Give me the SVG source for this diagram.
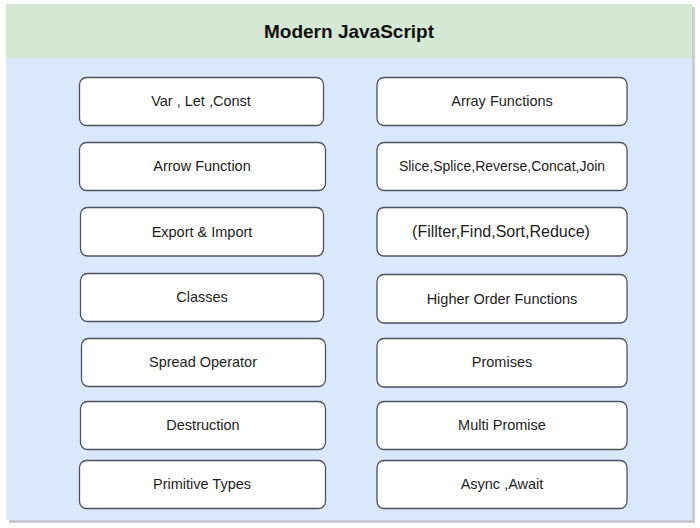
<svg xmlns="http://www.w3.org/2000/svg" width="700" height="528" viewBox="0 0 700 528">
<style>
.node rect{fill:#ffffff;stroke:#4d525c;stroke-width:1.3}
.node text{font-family:"Liberation Sans",Arial,sans-serif;font-size:14.5px;fill:#1e1e1e;text-anchor:middle;dominant-baseline:central}
.title{font-family:"Liberation Sans",Arial,sans-serif;font-size:19px;font-weight:bold;fill:#111;text-anchor:middle;dominant-baseline:central}
</style>
<rect width="700" height="528" fill="#ffffff"/>
<g id="frame">
<rect x="9" y="7" width="686" height="516" fill="#c9ccd2"/>
<rect x="6" y="4" width="686" height="516" fill="#dae8fc"/>
<rect x="6" y="4" width="686" height="54" fill="#d5e8d4"/>
<text class="title" x="349" y="31">Modern JavaScript</text>
</g>
<g id="connectors"></g>
<g id="n1" class="node"><rect x="79.5" y="77.5" width="244" height="48" rx="7"/><text x="201" y="101">Var , Let ,Const</text></g>
<g id="n2" class="node"><rect x="79.5" y="142.5" width="246" height="48" rx="7"/><text x="202" y="166">Arrow Function</text></g>
<g id="n3" class="node"><rect x="80.5" y="207.5" width="243" height="48.5" rx="7"/><text x="202" y="232">Export &amp; Import</text></g>
<g id="n4" class="node"><rect x="80.5" y="273.5" width="243" height="48" rx="7"/><text x="202" y="297">Classes</text></g>
<g id="n5" class="node"><rect x="81.5" y="338.5" width="244" height="48" rx="7"/><text x="203" y="362">Spread Operator</text></g>
<g id="n6" class="node"><rect x="80.5" y="401.5" width="245" height="48" rx="7"/><text x="203" y="425">Destruction</text></g>
<g id="n7" class="node"><rect x="79.5" y="460.5" width="246" height="48" rx="7"/><text x="202" y="484">Primitive Types</text></g>
<g id="n8" class="node"><rect x="377" y="77.5" width="250" height="48" rx="7"/><text x="502" y="101">Array Functions</text></g>
<g id="n9" class="node"><rect x="377" y="142.5" width="250" height="48" rx="7"/><text x="502" y="166" style="font-size:14px">Slice,Splice,Reverse,Concat,Join</text></g>
<g id="n10" class="node"><rect x="377" y="207.5" width="250" height="48.5" rx="7"/><text x="501" y="231.5" style="font-size:16px">(Fillter,Find,Sort,Reduce)</text></g>
<g id="n11" class="node"><rect x="377" y="274.5" width="250" height="48.5" rx="7"/><text x="502" y="299">Higher Order Functions</text></g>
<g id="n12" class="node"><rect x="377" y="338.5" width="250" height="48.5" rx="7"/><text x="502" y="362">Promises</text></g>
<g id="n13" class="node"><rect x="377" y="401.5" width="250" height="48" rx="7"/><text x="502" y="425">Multi Promise</text></g>
<g id="n14" class="node"><rect x="377" y="460.5" width="250" height="48" rx="7"/><text x="502" y="484">Async ,Await</text></g>
</svg>
